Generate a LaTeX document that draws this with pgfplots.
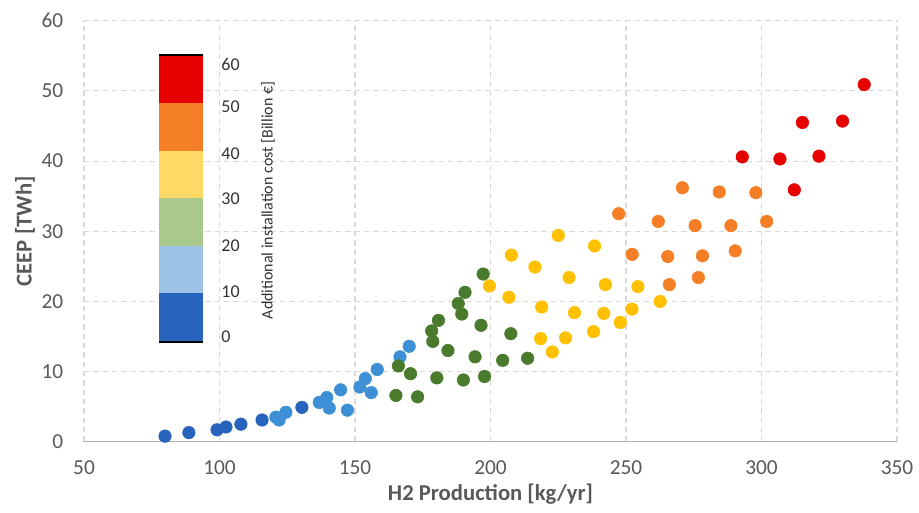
\documentclass[border=0pt]{standalone}
\usepackage{pgfplots}
\pgfplotsset{compat=1.18}
\usepackage{fontspec}
\setmainfont{Carlito}
\definecolor{cDB}{HTML}{2863BE}
\definecolor{cLB}{HTML}{3D8FD6}
\definecolor{cGR}{HTML}{4A7A2B}
\definecolor{cYE}{HTML}{FFC000}
\definecolor{cOR}{HTML}{F47F26}
\definecolor{cRD}{HTML}{E60000}
\definecolor{bLB}{HTML}{9DC3E6}
\definecolor{bGR}{HTML}{A9C98C}
\definecolor{bYE}{HTML}{FFD966}
\definecolor{tickgray}{HTML}{595959}
\definecolor{gridgray}{HTML}{D9D9D9}
\begin{document}
\begin{tikzpicture}
\path[use as bounding box] (-63pt,-52.7pt) rectangle (626.25pt,331.3pt);
\begin{axis}[
  at={(0,0)}, anchor=south west,
  scale only axis, width=609.75pt, height=315.75pt,
  xmin=50, xmax=350, ymin=0, ymax=60,
  xtick={50,100,...,350}, ytick={0,10,...,60},
  grid=major,
  major grid style={gridgray, line width=0.8pt, dash pattern=on 4pt off 3pt},
  axis line style={draw=none},
  major tick length=0pt,
  /pgf/number format/assume math mode=true,
  tick label style={font=\fontsize{16}{16}\selectfont, text=tickgray},
  yticklabel style={xshift=-12pt},
  xticklabel style={yshift=-11pt},
  xlabel={\textbf{H2 Production [kg/yr]}},
  ylabel={\textbf{CEEP [TWh]}},
  label style={font=\fontsize{17}{17}\selectfont, text=tickgray},
  xlabel style={at={(axis description cs:0.5,-0.1235)}, anchor=center},
  ylabel style={at={(axis description cs:-0.0726,0.5)}, anchor=center},
  clip=false,
  mark size=4.7pt,
]
\draw[gray!60, line width=0.9pt] (axis cs:50,0) -- (axis cs:350,0);
% colorbar
\fill[cDB] (axis cs:77.7,14.25) rectangle (axis cs:93.9,21.23);
\fill[bLB] (axis cs:77.7,21.23) rectangle (axis cs:93.9,27.93);
\fill[bGR] (axis cs:77.7,27.93) rectangle (axis cs:93.9,34.69);
\fill[bYE] (axis cs:77.7,34.69) rectangle (axis cs:93.9,41.47);
\fill[cOR] (axis cs:77.7,41.47) rectangle (axis cs:93.9,48.31);
\fill[cRD] (axis cs:77.7,48.31) rectangle (axis cs:93.9,55.1);
\draw[black, line width=1.2pt] (axis cs:77.7,55.1) -- (axis cs:93.9,55.1);
\draw[black, line width=1.2pt] (axis cs:77.7,14.25) -- (axis cs:93.9,14.25);
\node[anchor=west, inner sep=0pt, font=\fontsize{13.5}{13.5}\selectfont, text=black!80] at (axis cs:100.6,53.7) {60};
\node[anchor=west, inner sep=0pt, font=\fontsize{13.5}{13.5}\selectfont, text=black!80] at (axis cs:100.6,47.7) {50};
\node[anchor=west, inner sep=0pt, font=\fontsize{13.5}{13.5}\selectfont, text=black!80] at (axis cs:100.6,41.1) {40};
\node[anchor=west, inner sep=0pt, font=\fontsize{13.5}{13.5}\selectfont, text=black!80] at (axis cs:100.6,34.6) {30};
\node[anchor=west, inner sep=0pt, font=\fontsize{13.5}{13.5}\selectfont, text=black!80] at (axis cs:100.6,28.0) {20};
\node[anchor=west, inner sep=0pt, font=\fontsize{13.5}{13.5}\selectfont, text=black!80] at (axis cs:100.6,21.4) {10};
\node[anchor=west, inner sep=0pt, font=\fontsize{13.5}{13.5}\selectfont, text=black!80] at (axis cs:100.6,15.0) {0};
\node[rotate=90, inner sep=0pt, font=\fontsize{12}{12}\selectfont, text=black!80] at (axis cs:117.9,34.4) {Additional installation cost [Billion €]};
% data
\addplot[only marks, mark=*, color=cDB] coordinates {
(79.9,0.8) (88.7,1.3) (99.1,1.7) (102.4,2.1) (107.9,2.5) (115.7,3.1) (130.4,4.9)
};
\addplot[only marks, mark=*, color=cLB] coordinates {
(120.8,3.5) (122,3.1) (124.5,4.2) (136.8,5.6) (139.6,6.3) (140.5,4.8) (144.7,7.4)
(147.2,4.5) (151.8,7.8) (153.8,9.0) (156,7.0) (158.2,10.3) (166.6,12.1) (170,13.6)
};
\addplot[only marks, mark=*, color=cGR] coordinates {
(165.1,6.6) (166,10.8) (170.5,9.7) (173.1,6.4) (178.3,15.8) (178.7,14.3) (180.8,17.3)
(180.2,9.1) (184.3,13.0) (188.1,19.7) (189.4,18.2) (190.6,21.3) (190,8.8) (194.3,12.1)
(196.5,16.6) (197.3,23.9) (197.8,9.3) (204.5,11.6) (207.5,15.4) (213.7,11.9)
};
\addplot[only marks, mark=*, color=cYE] coordinates {
(199.6,22.2) (207.7,26.6) (206.8,20.6) (216.4,24.9) (218.9,19.2) (218.5,14.7) (222.8,12.8)
(227.7,14.8) (229,23.4) (231,18.4) (238,15.7) (238.4,27.9) (242.4,22.4) (241.8,18.3)
(247.9,17.0) (252.2,18.9) (254.4,22.1) (262.6,20.0) (225,29.4)
};
\addplot[only marks, mark=*, color=cOR] coordinates {
(247.3,32.5) (270.8,36.2) (284.4,35.6) (297.9,35.5) (261.9,31.4) (275.5,30.8) (288.7,30.8)
(301.9,31.4) (252.3,26.7) (265.4,26.4) (278.2,26.5) (290.3,27.2) (266,22.4) (276.7,23.4)
};
\addplot[only marks, mark=*, color=cRD] coordinates {
(292.9,40.6) (306.8,40.3) (321.2,40.7) (312.1,35.9) (315.1,45.5) (329.9,45.7) (337.9,50.9)
};
\end{axis}
\end{tikzpicture}
\end{document}
